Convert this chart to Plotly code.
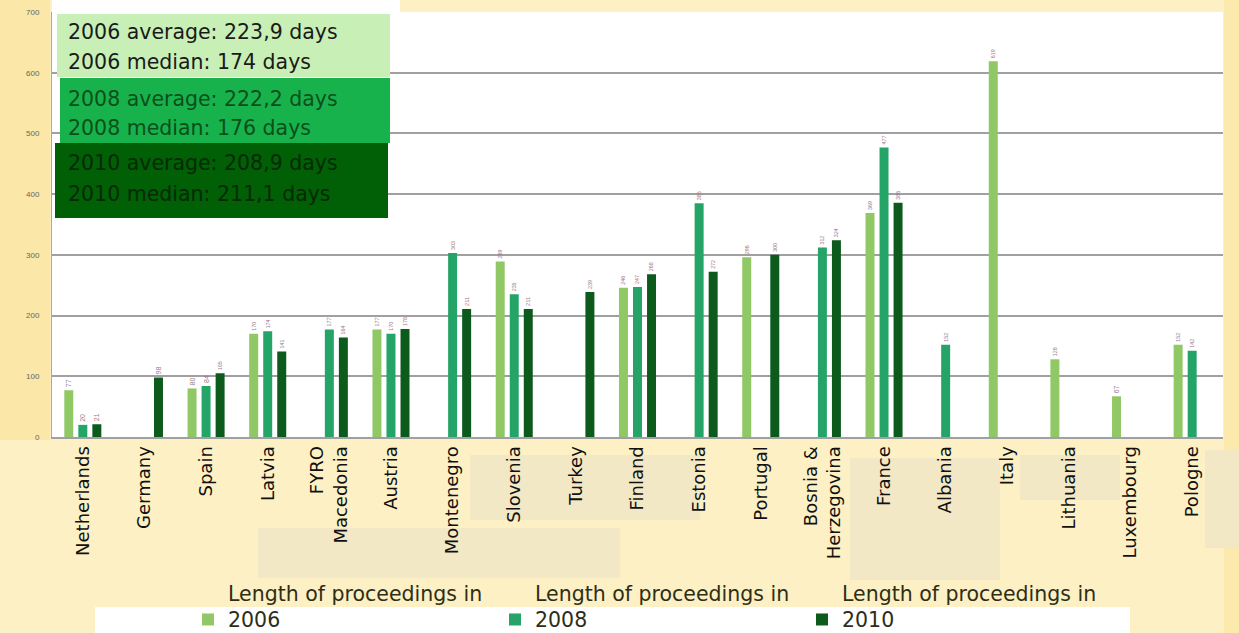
import plotly.graph_objects as go

# data
countries = [
    "Netherlands", "Germany", "Spain", "Latvia", "FYRO<br>Macedonia", "Austria",
    "Montenegro", "Slovenia", "Turkey", "Finland", "Estonia", "Portugal",
    "Bosnia &<br>Herzegovina", "France", "Albania", "Italy", "Lithuania",
    "Luxembourg", "Pologne",
]
len_2006 = [77, None, 80, 170, None, 177, None, 289, None, 246, None, 296, None, 369, None, 619, 128, 67, 152]
len_2008 = [20, None, 84, 174, 177, 170, 303, 235, None, 247, 385, None, 312, 477, 152, None, None, None, 142]
len_2010 = [21, 98, 105, 141, 164, 178, 211, 211, 239, 268, 272, 300, 324, 386, None, None, None, None, None]

series_names = [
    "Length of proceedings in<br>2006",
    "Length of proceedings in<br>2008",
    "Length of proceedings in<br>2010",
]
summary_lines = [
    ("2006 average: 223,9 days", "2006 median: 174 days"),
    ("2008 average: 222,2 days", "2008 median: 176 days"),
    ("2010 average: 208,9 days", "2010 median: 211,1 days"),
]

FONT = "DejaVu Sans, Liberation Sans, sans-serif"
colors = ["#8FC865", "#24A466", "#0C5A1C"]
box_fill = ["#C8F0B6", "#18B24C", "#015F05"]
box_text = ["#1A1A1A", "#0B4F1A", "#062A06"]

# plot area in pixels: x 52..1223, y 12..437
W, H = 1239, 633
L, R, T, B = 52, 16, 12, 196
PW, PH = W - L - R, H - T - B


def px(x):
    return (x - L) / PW


def py(y):
    return (H - B - y) / PH


def rect(x0, x1, y0, y1, fill, layer="below"):
    return dict(type="rect", xref="paper", yref="paper",
                x0=px(x0), x1=px(x1), y0=py(y1), y1=py(y0),
                fillcolor=fill, line=dict(width=0), layer=layer)


fig = go.Figure()
for name, vals, col in zip(series_names, [len_2006, len_2008, len_2010], colors):
    fig.add_trace(go.Bar(
        x=countries,
        y=vals,
        name=name,
        marker=dict(color=col, line=dict(width=0)),
        text=[("" if v is None else str(v)) for v in vals],
        textposition="outside",
        textangle=-90,
        textfont=dict(size=7, color="#9A7A8A", family="Liberation Sans"),
        cliponaxis=False,
    ))

beige = "#F3E8C6"
shapes = [
    rect(0, 50, 0, 440, "#FBE7A7"),          # left strip
    rect(1224, 1239, 0, 633, "#FBE9AE"),     # right strip
    rect(52, 400, 0, 12, "white"),           # white band at the top-left
    # faded beige patches behind the category labels
    rect(258, 620, 528, 578, beige),
    rect(470, 700, 455, 520, beige),
    rect(850, 1000, 458, 580, beige),
    rect(1020, 1120, 455, 500, beige),
    rect(1205, 1239, 450, 548, beige),
    rect(95, 1130, 607, 633, "white"),       # white strip under the legend
]
annotations = []
# coloured summary boxes top-left
boxes = [(57, 390, 14, 77), (60, 390, 78, 143), (55, 388, 143, 218)]
line_y = [(32, 62), (99, 128), (163, 194)]
for (x0, x1, y0, y1), fill, tcol, lines, ly in zip(boxes, box_fill, box_text, summary_lines, line_y):
    shapes.append(rect(x0, x1, y0, y1, fill, layer="above"))
    for txt, yy in zip(lines, ly):
        annotations.append(dict(text=txt, xref="paper", yref="paper",
                                x=px(66), y=py(yy), xanchor="left", yanchor="middle",
                                showarrow=False, font=dict(size=20.5, color=tcol, family=FONT)))

fig.update_layout(
    width=W, height=H,
    margin=dict(l=L, r=R, t=T, b=B, autoexpand=False),
    paper_bgcolor="#FCF0C4",
    plot_bgcolor="white",
    barmode="group",
    bargap=0.317,
    bargroupgap=0.36,
    font=dict(family=FONT, color="#222"),
    shapes=shapes,
    annotations=annotations,
    legend=dict(
        orientation="h",
        x=px(188), xanchor="left",
        y=py(573), yanchor="top",
        valign="bottom",
        bgcolor="rgba(0,0,0,0)",
        font=dict(size=20.5, color="#2E2E16", family=FONT),
        entrywidth=262,
        entrywidthmode="pixels",
        traceorder="normal",
    ),
)
fig.update_yaxes(
    range=[0, 700], dtick=100,
    showgrid=True, gridcolor="#A0A0A0", gridwidth=1.5,
    showline=True, linecolor="#A8A8A8", linewidth=1,
    tickfont=dict(size=8, color="#666", family="Liberation Sans"),
    ticklabelstandoff=10,
    zeroline=False,
)
fig.update_xaxes(
    tickangle=-90,
    tickfont=dict(size=18, color="#111", family=FONT),
    showline=True, linecolor="#A0A0A0", linewidth=2,
    showgrid=False,
)

# drop the page's default body margin so the figure sits at the window corner
fig.write_html("out.html", config={"displayModeBar": False},
               post_script="document.body.style.margin='0';")
